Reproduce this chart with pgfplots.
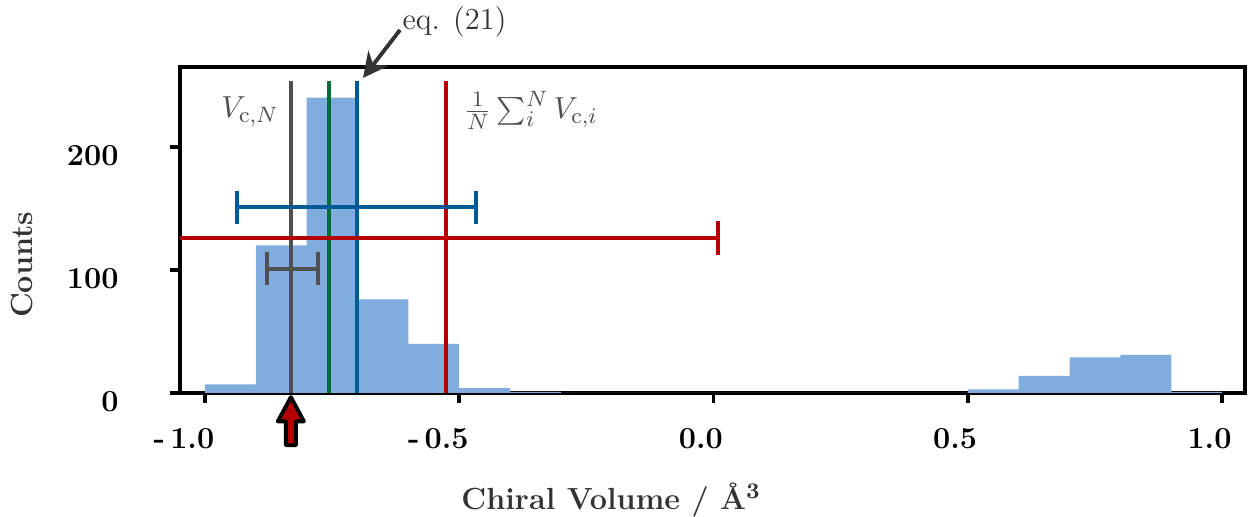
\documentclass[border=0pt]{standalone}
\usepackage{pgfplots}
\pgfplotsset{compat=1.18}
\usetikzlibrary{arrows.meta}
\definecolor{barblue}{RGB}{128,172,222}
\definecolor{lblue}{RGB}{0,90,150}
\definecolor{lgreen}{RGB}{0,110,50}
\definecolor{lgray}{RGB}{80,80,80}
\definecolor{lred}{RGB}{180,0,0}
\definecolor{txt}{RGB}{51,51,51}
\begin{document}
\begin{tikzpicture}
\useasboundingbox (-64.8pt,-44.64pt) rectangle (384.48pt,141.48pt);
\begin{axis}[
  at={(0,0)}, anchor=south west,
  scale only axis, width=383.4pt, height=117.36pt,
  xmin=-1.049, xmax=1.045, ymin=0, ymax=265,
  axis line style={line width=1.25pt},
  tick style={line width=1.25pt, black},
  tick align=outside, major tick length=3.6pt,
  xtick pos=bottom, ytick pos=left,
  xtick={-1,-0.5,0,0.5,1},
  xticklabels={\textbf{-\,1.0},\textbf{-\,0.5},\textbf{0.0},\textbf{0.5},\textbf{1.0}},
  ytick={0,100,200},
  yticklabels={\textbf{0},\textbf{100},\textbf{200}},
  ticklabel style={font=\fontsize{11pt}{13pt}\selectfont},
  xticklabel style={anchor=north east, xshift=6.9pt, yshift=-5.5pt},
  yticklabel style={xshift=-15pt, yshift=-3.3pt},
  xlabel={\textbf{Chiral Volume / Å$^{\mathbf{3}}$}},
  ylabel={\textbf{Counts}},
  label style={font=\fontsize{11pt}{13pt}\selectfont, text=txt},
  xlabel style={at={(axis description cs:0.405,-0.328)}, anchor=center},
  ylabel style={at={(axis description cs:-0.1484,0.393)}, anchor=center},
]
\addplot[ybar interval, fill=barblue, draw=none] coordinates {
(-1.0,7) (-0.9,120) (-0.8,240) (-0.7,76) (-0.6,40) (-0.5,4) (-0.4,1) (-0.3,0)
(0.4,0) (0.5,3) (0.6,14) (0.7,29) (0.8,31) (0.9,1) (1.0,1)};
\addplot[lgray, line width=1.25pt] coordinates {(-0.831,0) (-0.831,254)};
\addplot[lgreen, line width=1.25pt] coordinates {(-0.756,0) (-0.756,254)};
\addplot[lblue, line width=1.25pt] coordinates {(-0.701,0) (-0.701,254)};
\addplot[lred, line width=1.25pt] coordinates {(-0.526,0) (-0.526,254)};
\addplot[lblue, mark=none, error bars/.cd, x dir=both, x explicit,
  error mark=|,
  error bar style={line width=1.4pt},
  error mark options={mark size=6pt, line width=1.4pt}]
  coordinates {(-0.702,151) +- (0.235,0)};
\addplot[lred, mark=none, error bars/.cd, x dir=both, x explicit,
  error mark=|,
  error bar style={line width=1.4pt},
  error mark options={mark size=6pt, line width=1.4pt}]
  coordinates {(-0.526,126) +- (0.535,0)};
\addplot[lgray, mark=none, error bars/.cd, x dir=both, x explicit,
  error mark=|,
  error bar style={line width=1.4pt},
  error mark options={mark size=6pt, line width=1.4pt}]
  coordinates {(-0.828,101) +- (0.05,0)};
\node[text=lgray, font=\fontsize{11pt}{13pt}\selectfont] at (axis cs:-0.9115,228.5) {$V_{\mathrm{c},N}$};
\node[text=lgray, font=\fontsize{11pt}{13pt}\selectfont] at (axis cs:-0.359,230) {$\frac{1}{N}\sum_i^N V_{\mathrm{c},i}$};
\coordinate (arr) at (axis cs:-0.831,0);
\end{axis}
\draw[line width=1.4pt, fill=lred, line join=round, line cap=round]
  ([yshift=-1.5pt]arr) -- ++(-4.7pt,-8.7pt) -- ++(2.9pt,0) -- ++(0,-8.6pt) -- ++(3.6pt,0) -- ++(0,8.6pt) -- ++(2.9pt,0) -- cycle;
\draw[txt, line width=1.4pt, -{Stealth[length=9pt,width=9pt]}] (79.2pt,130.68pt) -- (65.88pt,113.4pt);
\node[anchor=west, text=txt, font=\fontsize{11pt}{13pt}\selectfont, inner sep=0pt] at (79.9pt,133.56pt) {eq. (21)};
\end{tikzpicture}
\end{document}
